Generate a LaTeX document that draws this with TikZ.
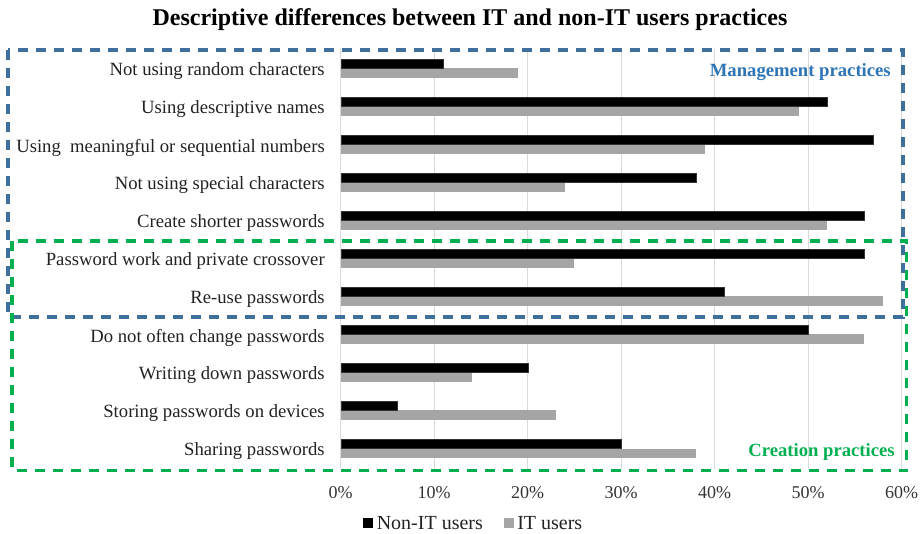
\documentclass[tikz,border=0pt]{standalone}
\usepackage{fontspec}
\setmainfont{Liberation Serif}
\definecolor{labelgray}{HTML}{222222}
\definecolor{tickgray}{HTML}{333333}
\definecolor{gridgray}{HTML}{DADADA}
\definecolor{itgray}{HTML}{A5A5A5}
\definecolor{mblue}{HTML}{3F6F9C}
\definecolor{mtext}{HTML}{2E75B6}
\definecolor{cgreen}{HTML}{00B050}
\begin{document}
\begin{tikzpicture}[x=0.75pt,y=-0.75pt,
  lbl/.style={anchor=east, font=\fontsize{14}{16}\selectfont, text=labelgray, inner sep=0pt},
  tick/.style={font=\fontsize{13.5}{15}\selectfont, text=tickgray, inner sep=0pt},
  leg/.style={anchor=west, font=\fontsize{15}{17}\selectfont, text=labelgray, inner sep=0pt},
  gridline/.style={draw=gridgray, line width=0.9pt},
  nonit/.style={fill=black, draw=black!80, line width=0.3pt},
  itbar/.style={fill=itgray},
  mgmtbox/.style={draw=mblue, line width=2.4pt, dash pattern=on 7.5pt off 6pt},
  creabox/.style={draw=cgreen, line width=2.4pt, dash pattern=on 7.5pt off 6pt},
  boxtitle/.style={anchor=east, font=\bfseries\fontsize{14}{16}\selectfont, inner sep=0pt}]
\useasboundingbox (0,0) rectangle (921,534);
% title
\node[font=\bfseries\fontsize{18}{20}\selectfont, inner sep=0pt] (title) at (470,20) {Descriptive differences between IT and non-IT users practices};
% grid and ticks
\foreach \k/\t in {0/0\%,1/10\%,2/20\%,3/30\%,4/40\%,5/50\%,6/60\%}{
  \draw[gridline] (340.7+93.5*\k,49) -- (340.7+93.5*\k,468.5);
  \node[tick] (tick\k) at (340.7+93.5*\k,493) {\t};
}
% bars and labels
\foreach \lab/\b/\g [count=\i] in {
  Not using random characters/11/19,
  Using descriptive names/52/49,
  Using\ \ meaningful or sequential numbers/57/39,
  Not using special characters/38/24,
  Create shorter passwords/56/52,
  Password work and private crossover/56/25,
  Re-use passwords/41/58,
  Do not often change passwords/50/56,
  Writing down passwords/20/14,
  Storing passwords on devices/6/23,
  Sharing passwords/30/38}{
  \pgfmathsetmacro\c{68.5+38*(\i-1)}
  \node[lbl] (lab\i) at (325,\c+3) {\lab};
  \fill[itbar] (340.7,\c) rectangle (340.7+9.35*\g,\c+9.5);
  \filldraw[nonit] (340.7,\c-9.5) rectangle (340.7+9.35*\b,\c);
}
% group boxes
\draw[mgmtbox] (8,50) rectangle (903,317);
\draw[creabox] (12,241) rectangle (906.5,470.5);
\node[boxtitle, text=mtext] (mgmt) at (891,72) {Management practices};
\node[boxtitle, text=cgreen] (crea) at (895,452) {Creation practices};
% legend
\fill[black] (363,518) rectangle (373,528);
\node[leg] (legnon) at (376.5,523) {Non-IT users};
\fill[itgray] (504,518) rectangle (514,528);
\node[leg] (legit) at (517,523) {IT users};
\end{tikzpicture}
\end{document}
